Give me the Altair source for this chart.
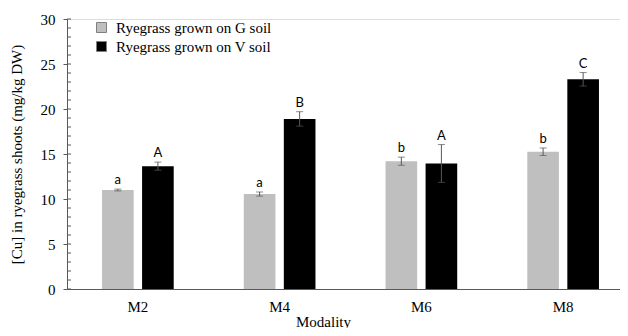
import altair as alt
import pandas as pd

modalities = ["M2", "M4", "M6", "M8"]
series = ["Ryegrass grown on G soil", "Ryegrass grown on V soil"]
g_values = [11.0, 10.55, 14.2, 15.25]
g_errors = [0.1, 0.23, 0.45, 0.42]
v_values = [13.65, 18.9, 13.95, 23.3]
v_errors = [0.45, 0.8, 2.1, 0.75]
g_letters = ["a", "a", "b", "b"]
v_letters = ["A", "B", "A", "C"]
y_minor_ticks = list(range(0, 31))
y_major_ticks = [0, 5, 10, 15, 20, 25, 30]

rows = []
for i, m in enumerate(modalities):
    rows.append(dict(Modality=m, Series=series[0], value=g_values[i], err=g_errors[i], letter=g_letters[i]))
    rows.append(dict(Modality=m, Series=series[1], value=v_values[i], err=v_errors[i], letter=v_letters[i]))
df = pd.DataFrame(rows)
df["lo"] = df["value"] - df["err"]
df["hi"] = df["value"] + df["err"]
minor_df = pd.DataFrame({"t": y_minor_ticks})

SERIF = "Liberation Serif"
AXIS_GREY = "#595959"
Y_TITLE = "[Cu] in ryegrass shoots (mg/kg DW)"

x_scale = alt.Scale(domain=modalities, paddingInner=0, paddingOuter=0, range=[0, 567])
xo_scale = alt.Scale(domain=series, paddingInner=0.21, paddingOuter=0.875)
y_scale = alt.Scale(domain=[0, 30], nice=False, zero=True)

x_enc = alt.X("Modality:N", sort=modalities, scale=x_scale,
              axis=alt.Axis(title="Modality", titleX=256, titleAlign="center"))
xo_enc = alt.XOffset("Series:N", sort=series, scale=xo_scale)

base = alt.Chart(df)

bars = base.mark_bar(strokeWidth=0).encode(
    x=x_enc,
    xOffset=xo_enc,
    y=alt.Y("value:Q", scale=y_scale, axis=alt.Axis(title=Y_TITLE, values=y_major_ticks)),
    fill=alt.Fill("Series:N", sort=series,
                  scale=alt.Scale(domain=series, range=["#bfbfbf", "#000000"]),
                  legend=alt.Legend(title=None, orient="none", legendX=27, legendY=1,
                                    symbolType="square", symbolSize=100,
                                    symbolStrokeColor="#7f7f7f", symbolStrokeWidth=1,
                                    labelFont=SERIF, labelFontSize=15, labelColor="black",
                                    labelOffset=7, rowPadding=3)),
)

x_plain = alt.X("Modality:N", sort=modalities, scale=x_scale, title="Modality")
xo_plain = alt.XOffset("Series:N", sort=series, scale=xo_scale)

err_rule = base.mark_rule(color=AXIS_GREY, strokeWidth=1).encode(
    x=x_plain, xOffset=xo_plain,
    y=alt.Y("lo:Q", scale=y_scale, title=Y_TITLE),
    y2="hi:Q",
)
cap_top = base.mark_tick(color=AXIS_GREY, thickness=1, size=7, orient="horizontal").encode(
    x=x_plain, xOffset=xo_plain,
    y=alt.Y("hi:Q", scale=y_scale, title=Y_TITLE),
)
cap_bot = base.mark_tick(color=AXIS_GREY, thickness=1, size=7, orient="horizontal").encode(
    x=x_plain, xOffset=xo_plain,
    y=alt.Y("lo:Q", scale=y_scale, title=Y_TITLE),
)
letters = base.mark_text(font="Lato", fontSize=13, color="black", baseline="alphabetic", dy=-5).encode(
    x=x_plain, xOffset=xo_plain,
    y=alt.Y("hi:Q", scale=y_scale, title=Y_TITLE),
    text="letter:N",
)
minor = alt.Chart(minor_df).mark_rule(color=AXIS_GREY, strokeWidth=1).encode(
    x=alt.value(0), x2=alt.value(4),
    y=alt.Y("t:Q", scale=y_scale, title=Y_TITLE),
)

chart = alt.layer(bars, err_rule, cap_top, cap_bot, letters, minor).properties(
    width=553, height=270,
    autosize=alt.AutoSizeParams(type="none"),
    padding={"left": 59, "top": 11, "right": 0, "bottom": 39},
).configure_view(
    stroke=None
).configure(
    background="white"
).configure_axis(
    grid=False, domainColor=AXIS_GREY, tickColor=AXIS_GREY,
    labelFont=SERIF, labelFontSize=15, labelColor="black",
    titleFont=SERIF, titleFontSize=15, titleFontWeight="normal", titleColor="black",
).configure_axisX(
    ticks=False, labelAngle=0, labelPadding=10, titlePadding=0,
).configure_axisY(
    tickSize=4, labelPadding=8, titlePadding=16,
)

chart.save("out.html", embed_options={"renderer": "svg", "actions": False})
